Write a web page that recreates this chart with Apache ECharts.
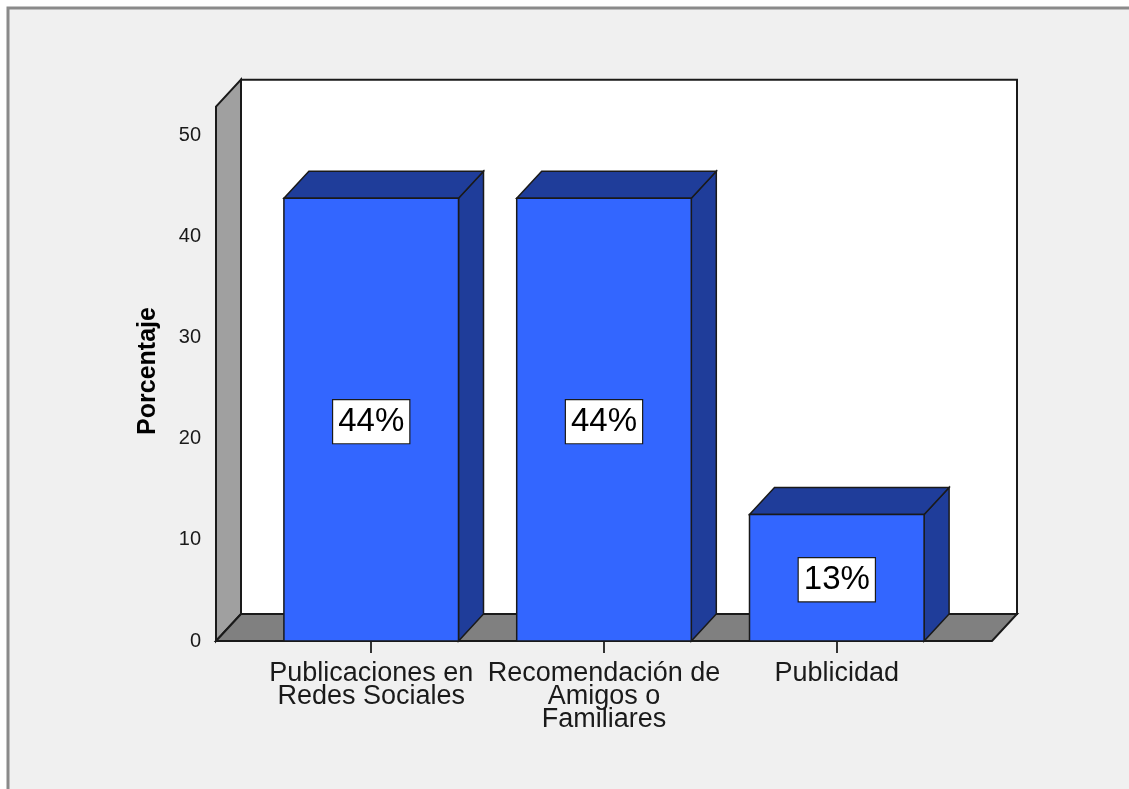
<!DOCTYPE html>
<html>
<head>
<meta charset="utf-8">
<title>Porcentaje</title>
<script src="https://cdn.jsdelivr.net/npm/echarts@6/dist/echarts.min.js"></script>
<style>
  html, body { margin: 0; padding: 0; background: #ffffff; }
  #chart { width: 1129px; height: 789px; }
</style>
</head>
<body>
<div id="chart"></div>
<script>
// Categories (multi-line labels) and their percentages
const categories = [
  'Publicaciones en\nRedes Sociales',
  'Recomendación de\nAmigos o\nFamiliares',
  'Publicidad'
];
const percentages = [43.75, 43.75, 12.5];
const yTicks = [0, 10, 20, 30, 40, 50];

const FONT = "'Liberation Sans', Arial, sans-serif";
const DX = 25;          // depth offset to the right (px)
const DY = 27;          // depth offset upwards (px)
const WALL_TOP = 52.8;  // height of the back and side walls, axis units
const BAR_W = 0.75;     // bar width, in category units
const X_MIN = -2 / 3, X_MAX = categories.length - 1 + 2 / 3;
const EDGE = '#1a1a1a';

const chart = echarts.init(document.getElementById('chart'), null, { renderer: 'canvas' });

// The 3D box: back wall, left side wall and floor
function renderBox(params, api) {
  const p0 = api.coord([X_MIN, 0]);
  const p1 = api.coord([X_MAX, 0]);
  const top = api.coord([X_MIN, WALL_TOP]);
  const lw = 2;
  return {
    type: 'group',
    children: [
      {
        type: 'rect',
        shape: { x: p0[0] + DX, y: top[1] - DY, width: p1[0] - p0[0], height: p0[1] - top[1] },
        style: { fill: '#ffffff', stroke: EDGE, lineWidth: lw }
      },
      {
        type: 'polygon',
        shape: { points: [[p0[0], p0[1]], [p0[0], top[1]], [p0[0] + DX, top[1] - DY], [p0[0] + DX, p0[1] - DY]] },
        style: { fill: '#a0a0a0', stroke: EDGE, lineWidth: lw }
      },
      {
        type: 'polygon',
        shape: { points: [[p0[0], p0[1]], [p0[0] + DX, p0[1] - DY], [p1[0] + DX, p0[1] - DY], [p1[0], p0[1]]] },
        style: { fill: '#808080', stroke: EDGE, lineWidth: lw }
      }
    ]
  };
}

// One 3D bar: side face, top face, front face and the value box
function renderBar(params, api) {
  const idx = api.value(0);
  const val = api.value(1);
  const t = api.coord([idx, val]);
  const b = api.coord([idx, 0]);
  const half = api.size([BAR_W, 0])[0] / 2;
  const xl = t[0] - half, xr = t[0] + half;
  const lw = 1.5;
  return {
    type: 'group',
    children: [
      {
        type: 'polygon',
        shape: { points: [[xr, t[1]], [xr + DX, t[1] - DY], [xr + DX, b[1] - DY], [xr, b[1]]] },
        style: { fill: '#1f3d9a', stroke: EDGE, lineWidth: lw }
      },
      {
        type: 'polygon',
        shape: { points: [[xl, t[1]], [xl + DX, t[1] - DY], [xr + DX, t[1] - DY], [xr, t[1]]] },
        style: { fill: '#1f3d9a', stroke: EDGE, lineWidth: lw }
      },
      {
        type: 'rect',
        shape: { x: xl, y: t[1], width: xr - xl, height: b[1] - t[1] },
        style: { fill: '#3366ff', stroke: EDGE, lineWidth: lw }
      },
      {
        type: 'text',
        x: t[0],
        y: (t[1] + b[1]) / 2 + 2,
        style: {
          text: Math.round(val) + '%',
          font: '33px ' + FONT,
          fill: '#000000',
          align: 'center',
          verticalAlign: 'middle',
          backgroundColor: '#ffffff',
          borderColor: EDGE,
          borderWidth: 1.2,
          padding: [5, 5, 5, 5]
        }
      }
    ]
  };
}

const option = {
  backgroundColor: '#ffffff',
  animation: false,
  graphic: [
    {
      type: 'rect',
      z: -100,
      shape: { x: 8, y: 8, width: 1300, height: 900 },
      style: { fill: '#f0f0f0', stroke: '#8a8a8a', lineWidth: 3 }
    },
    {
      type: 'text',
      x: 148,
      y: 371,
      rotation: Math.PI / 2,
      style: {
        text: 'Porcentaje',
        font: 'bold 25px ' + FONT,
        fill: '#000000',
        align: 'center',
        verticalAlign: 'middle'
      }
    }
  ],
  grid: { left: 216, top: 135, width: 776, height: 506, show: false },
  xAxis: {
    type: 'value',
    min: X_MIN,
    max: X_MAX,
    axisLine: { show: false },
    splitLine: { show: false },
    axisTick: {
      show: true,
      length: 12,
      customValues: categories.map((c, i) => i),
      lineStyle: { color: '#333333', width: 2 }
    },
    axisLabel: {
      show: true,
      customValues: categories.map((c, i) => i),
      formatter: (v) => categories[Math.round(v)],
      fontFamily: FONT,
      fontSize: 27,
      lineHeight: 23,
      color: '#1a1a1a',
      align: 'center',
      margin: 21
    }
  },
  yAxis: {
    type: 'value',
    min: 0,
    max: 50,
    interval: 10,
    axisLine: { show: false },
    splitLine: { show: false },
    axisTick: {
      show: true,
      length: 12,
      customValues: yTicks,
      lineStyle: { color: '#333333', width: 2 }
    },
    axisLabel: {
      customValues: yTicks,
      fontFamily: FONT,
      fontSize: 20,
      color: '#1a1a1a',
      margin: 15
    }
  },
  series: [
    {
      type: 'custom',
      z: 1,
      silent: true,
      renderItem: renderBox,
      data: [[0, 0]]
    },
    {
      type: 'custom',
      z: 2,
      renderItem: renderBar,
      encode: { x: 0, y: 1 },
      data: percentages.map((v, i) => [i, v])
    }
  ]
};

chart.setOption(option);
</script>
</body>
</html>
